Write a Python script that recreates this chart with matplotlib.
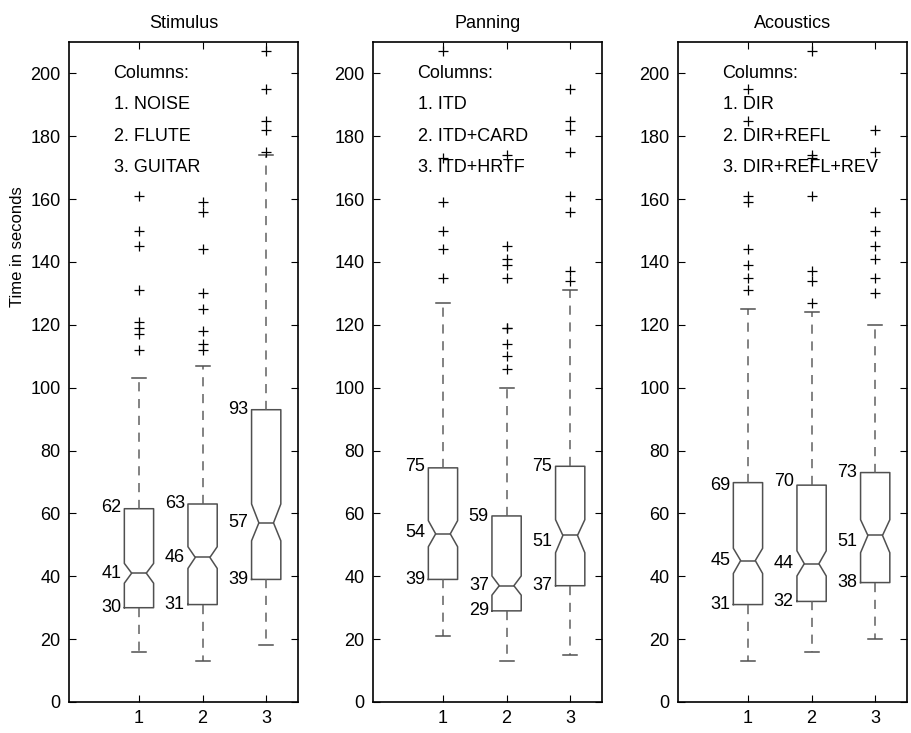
import matplotlib
matplotlib.use('Agg')
import matplotlib.pyplot as plt

plt.rcParams['font.family'] = ['Liberation Sans', 'DejaVu Sans']

# ---------------- data ----------------
titles = ['Stimulus', 'Panning', 'Acoustics']
columns_text = [
    ['Columns:', '1. NOISE', '2. FLUTE', '3. GUITAR'],
    ['Columns:', '1. ITD', '2. ITD+CARD', '3. ITD+HRTF'],
    ['Columns:', '1. DIR', '2. DIR+REFL', '3. DIR+REFL+REV'],
]
positions = [1, 2, 3]

# Stimulus
stim_q1 = [30, 31, 39]
stim_med = [41, 46, 57]
stim_q3 = [61.5, 63, 93]
stim_whislo = [16, 13, 18]
stim_whishi = [103, 107, 174]
stim_cilo = [37.8, 42.5, 51.3]
stim_cihi = [44.1, 49.4, 63]
stim_fliers = [
    [161, 150, 145, 131, 121, 119, 117, 112],
    [159, 156, 144, 130, 125, 118, 114, 112],
    [207, 195, 185, 182, 175],
]
stim_labels = [[62, 41, 30], [63, 46, 31], [93, 57, 39]]

# Panning
pan_q1 = [39, 29, 37]
pan_med = [53.5, 37, 53]
pan_q3 = [74.5, 59.2, 75]
pan_whislo = [21, 13, 15]
pan_whishi = [127, 100, 131]
pan_cilo = [49.4, 34, 47.5]
pan_cihi = [57.7, 40.1, 58]
pan_fliers = [
    [207, 173, 159, 150, 144, 135],
    [174, 145, 141, 139, 135, 119, 119, 114, 110, 106],
    [195, 185, 182, 175, 161, 156, 137, 134],
]
pan_labels = [[75, 54, 39], [59, 37, 29], [75, 51, 37]]

# Acoustics
aco_q1 = [31, 32, 38]
aco_med = [45, 44, 53]
aco_q3 = [69.8, 69, 73]
aco_whislo = [13, 16, 20]
aco_whishi = [125, 124, 120]
aco_cilo = [40.9, 40.1, 47.5]
aco_cihi = [48.9, 48.1, 58]
aco_fliers = [
    [195, 185, 161, 159, 144, 139, 135, 131],
    [207, 174, 173, 161, 137, 134, 127],
    [182, 175, 156, 150, 145, 141, 135, 130],
]
aco_labels = [[69, 45, 31], [70, 44, 32], [73, 51, 38]]

panels = [
    (stim_q1, stim_med, stim_q3, stim_whislo, stim_whishi, stim_cilo, stim_cihi, stim_fliers, stim_labels),
    (pan_q1, pan_med, pan_q3, pan_whislo, pan_whishi, pan_cilo, pan_cihi, pan_fliers, pan_labels),
    (aco_q1, aco_med, aco_q3, aco_whislo, aco_whishi, aco_cilo, aco_cihi, aco_fliers, aco_labels),
]

# ---------------- figure ----------------
W, H = 912, 733
fig = plt.figure(figsize=(W / 100, H / 100), dpi=100)
lefts = [69, 373, 678]
ax_w = 229
ax_top, ax_bot = 42, 702

box_color = '#505050'
whisk_color = '#606060'
box_w = 0.46
fs = 13

for i, (q1, med, q3, wlo, whi, clo, chi, fl, labs) in enumerate(panels):
    ax = fig.add_axes([lefts[i] / W, 1 - ax_bot / H, ax_w / W, (ax_bot - ax_top) / H])
    stats = []
    for j in range(3):
        stats.append(dict(med=med[j], q1=q1[j], q3=q3[j], whislo=wlo[j], whishi=whi[j],
                          cilo=clo[j], cihi=chi[j], fliers=fl[j], label=str(positions[j])))
    ax.bxp(stats, positions=positions, widths=box_w, shownotches=True, showfliers=True,
           boxprops=dict(color=box_color, linewidth=1.1),
           medianprops=dict(color=box_color, linewidth=1.1),
           whiskerprops=dict(color=whisk_color, linewidth=1.1, linestyle=(0, (6, 5))),
           capprops=dict(color=box_color, linewidth=1.1),
           flierprops=dict(marker='+', markersize=6.5, markeredgecolor='black',
                           markeredgewidth=0.9, linestyle='none'),
           capwidths=0.22)
    # value labels
    for j in range(3):
        for v in labs[j]:
            ax.text(positions[j] - box_w / 2 - 0.05, v, str(v), ha='right', va='center',
                    fontsize=fs)
    # column legend text
    for k, t in enumerate(columns_text[i]):
        ax.text(0.6, 200 - 10 * k, t, ha='left', va='center', fontsize=fs)

    ax.set_xlim(-0.1, 3.5)
    ax.set_ylim(0, 210)
    ax.set_xticks(positions)
    ax.set_xticklabels([str(p) for p in positions])
    ax.set_yticks(range(0, 201, 20))
    ax.tick_params(direction='in', top=True, right=True, length=5, labelsize=fs, pad=6)
    for s in ax.spines.values():
        s.set_linewidth(1.2)
        s.set_color('black')
    ax.set_title(titles[i], fontsize=fs, pad=10)
    if i == 0:
        ax.set_ylabel('Time in seconds', fontsize=12)
        ax.yaxis.set_label_coords(-0.19, 0.69)

fig.savefig('out.png', dpi=100)
